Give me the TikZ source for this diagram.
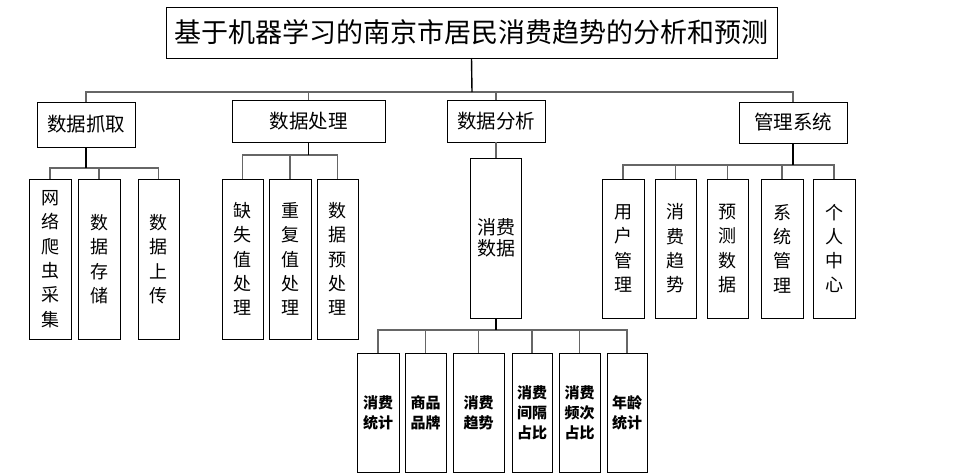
\documentclass[tikz,border=0pt]{standalone}
\usepackage{fontspec}
\setmainfont{Noto Sans CJK SC}
\begin{document}
\begin{tikzpicture}[x=1pt,y=-1pt,
  box/.style={draw=black,line width=1pt,inner sep=0pt,outer sep=0pt,align=center,fill=white},
  titlebox/.style={box,font=\fontsize{27}{30}\selectfont},
  lone/.style={box,font=\fontsize{19.5}{22}\selectfont},
  vbox/.style={box,minimum width=42pt,font=\fontsize{18}{24.3}\selectfont},
  lthree/.style={box,minimum height=119pt,font=\bfseries\fontsize{15}{20}\selectfont},
  stem/.style={draw=black,line width=1.4pt},
  bus/.style={draw=black!60,line width=1.2pt}]
\useasboundingbox (0,0) rectangle (971,475);

% title
\node[titlebox,minimum width=611pt,minimum height=51pt] (title) at (471.5,32.5) {基于机器学习的南京市居民消费趋势的分析和预测};

% level 1
\node[lone,minimum width=98pt,minimum height=45pt] (zq) at (86,124.5) {数据抓取};
\node[lone,minimum width=153pt,minimum height=42pt] (cl) at (308.5,121) {数据处理};
\node[lone,minimum width=98pt,minimum height=42pt] (fx) at (496,121) {数据分析};
\node[lone,minimum width=108pt,minimum height=41pt] (gl) at (793,122.5) {管理系统};

% level 2
\node[vbox,minimum height=160pt] (a1) at (50,259) {网\\络\\爬\\虫\\采\\集};
\node[vbox,minimum height=160pt] (a2) at (99,259) {数\\据\\存\\储};
\node[vbox,minimum height=160pt,minimum width=41pt] (a3) at (158.5,259) {数\\据\\上\\传};

\node[vbox,minimum height=160pt,minimum width=41pt] (b1) at (242.5,259) {缺\\失\\值\\处\\理};
\node[vbox,minimum height=160pt] (b2) at (290,259) {重\\复\\值\\处\\理};
\node[vbox,minimum height=160pt,minimum width=41pt] (b3) at (337.5,259) {数\\据\\预\\处\\理};

\node[box,minimum width=51pt,minimum height=160pt,font=\fontsize{19}{21}\selectfont] (sd) at (496,238) {消费\\数据};

\node[vbox,minimum height=139pt] (m1) at (623,248.5) {用\\户\\管\\理};
\node[vbox,minimum height=139pt,minimum width=41pt] (m2) at (675.5,248.5) {消\\费\\趋\\势};
\node[vbox,minimum height=139pt,minimum width=41pt] (m3) at (727.5,248.5) {预\\测\\数\\据};
\node[vbox,minimum height=139pt] (m4) at (782,248.5) {系\\统\\管\\理};
\node[vbox,minimum height=139pt] (m5) at (834,248.5) {个\\人\\中\\心};

% level 3
\node[lthree,minimum width=42pt] (c1) at (378,412.5) {消费\\统计};
\node[lthree,minimum width=41pt] (c2) at (425.5,412.5) {商品\\品牌};
\node[lthree,minimum width=51pt] (c3) at (478.5,412.5) {消费\\趋势};
\node[lthree,minimum width=40pt] (c4) at (532,412.5) {消费\\间隔\\占比};
\node[lthree,minimum width=41pt] (c5) at (579.5,412.5) {消费\\频次\\占比};
\node[lthree,minimum width=40pt] (c6) at (627,412.5) {年龄\\统计};

% bus points
\coordinate (tb) at (472,92);
\coordinate (zqb) at (86,168);
\coordinate (clb) at (308.5,155);
\coordinate (glb) at (793,165);
\coordinate (sdb) at (496,330);

% connectors
\foreach \n in {zq,cl,fx,gl} \draw[bus] (\n.north) |- (tb);
\draw[stem] (title.south) -- (tb);

\foreach \n in {a1,a2,a3} \draw[bus] (\n.north) |- (zqb);
\draw[stem] (zq.south) -- (zqb);

\foreach \n in {b1,b2,b3} \draw[bus] (\n.north) |- (clb);
\draw[stem] (cl.south) -- (clb);

\draw[bus] (fx.south) -- (sd.north);

\foreach \n in {m1,m2,m3,m4,m5} \draw[bus] (\n.north) |- (glb);
\draw[stem] (gl.south) -- (glb);

\foreach \n in {c1,c2,c3,c4,c5,c6} \draw[bus] (\n.north) |- (sdb);
\draw[stem] (sd.south) -- (sdb);
\end{tikzpicture}
\end{document}
